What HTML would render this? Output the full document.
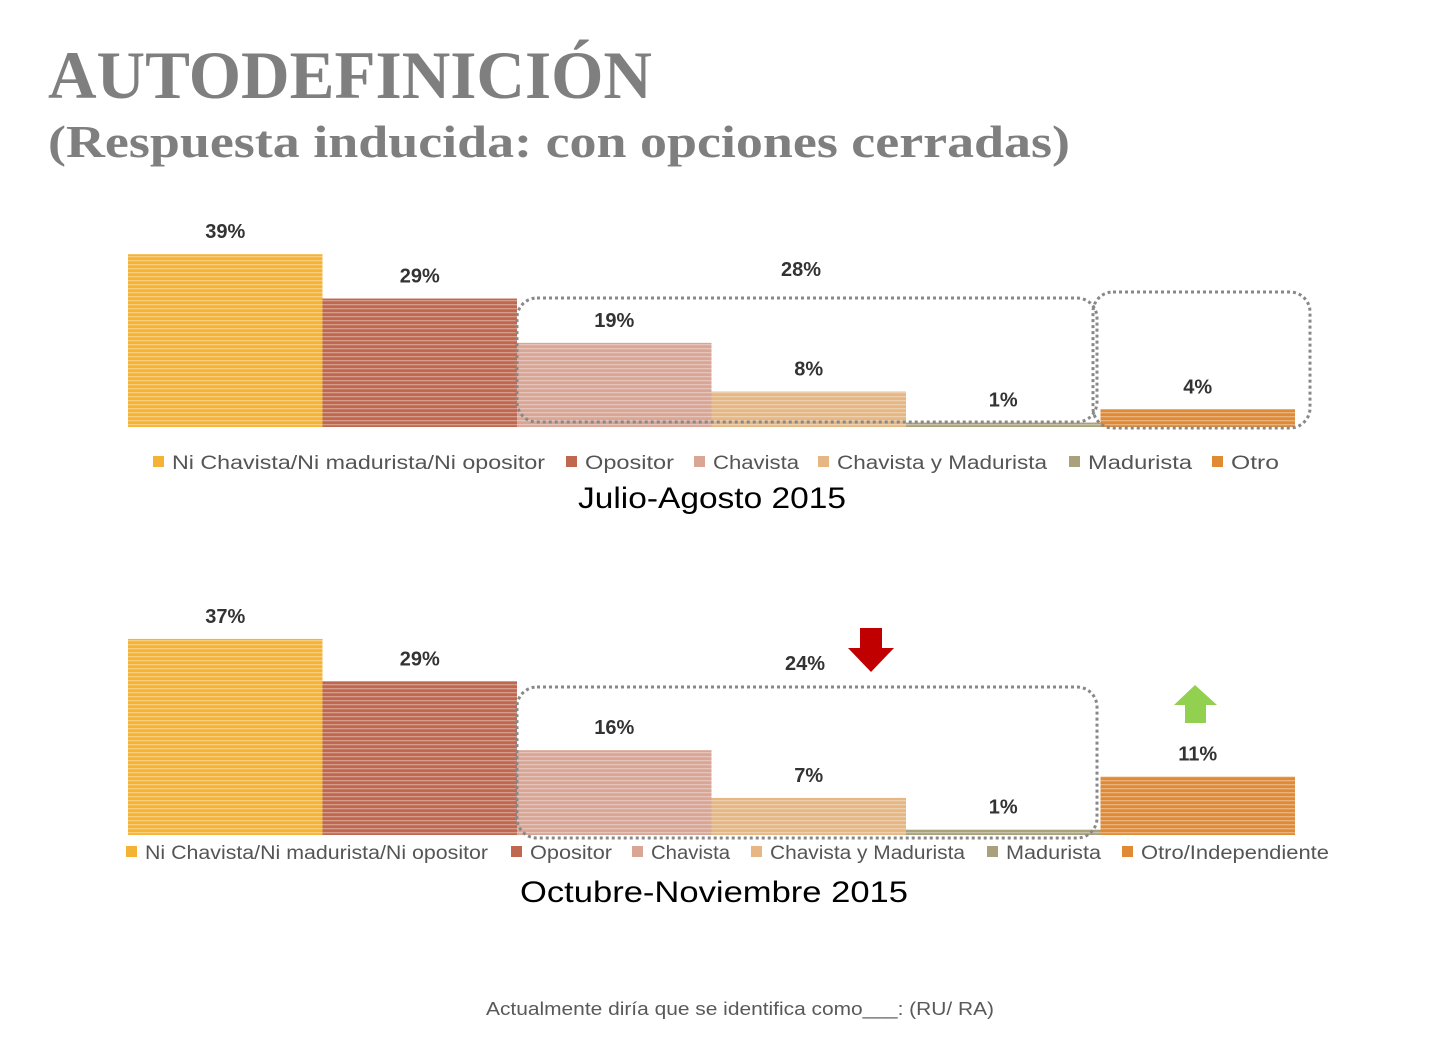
<!DOCTYPE html>
<html><head><meta charset="utf-8"><style>
body{margin:0;background:#fff;width:1442px;height:1040px;overflow:hidden}
svg{display:block}
.lbl{font:bold 20px "Liberation Sans",sans-serif;fill:#333;text-anchor:middle}
.leg{font:19px "Liberation Sans",sans-serif;fill:#555}
</style></head><body>
<svg id="s" width="1442" height="1040" xmlns="http://www.w3.org/2000/svg">
<defs>
<pattern id="st" width="4" height="4" patternUnits="userSpaceOnUse"><rect width="4" height="1.3" fill="#fff" opacity="0.35"/></pattern>
</defs>
<text x="48" y="98" textLength="604" lengthAdjust="spacingAndGlyphs" style="font:bold 68px 'Liberation Serif',serif;fill:#7f7f7f">AUTODEFINICIÓN</text>
<text x="48" y="157" textLength="1022" lengthAdjust="spacingAndGlyphs" style="font:bold 46px 'Liberation Serif',serif;fill:#7f7f7f">(Respuesta inducida: con opciones cerradas)</text>
<g id="c1"></g>
<g id="c2"></g>
<rect x="517" y="298" width="580" height="124" rx="20" fill="none" stroke="#888" stroke-width="3" stroke-dasharray="3,3"/>
<rect x="1093" y="292" width="217" height="136" rx="20" fill="none" stroke="#888" stroke-width="3" stroke-dasharray="3,3"/>
<text class="lbl" x="801" y="276">28%</text>
<rect x="517" y="687" width="580" height="151" rx="20" fill="none" stroke="#888" stroke-width="3" stroke-dasharray="3,3"/>
<text class="lbl" x="805" y="670">24%</text>
<polygon points="860,628 882,628 882,648 894,648 871,672 848,648 860,648" fill="#c00000"/>
<polygon points="1195,685 1217,705 1206,705 1206,723 1185,723 1185,705 1174,705" fill="#92d050"/>
<text x="712" y="508" style="font:30px 'Liberation Sans',sans-serif;fill:#000" text-anchor="middle" textLength="268" lengthAdjust="spacingAndGlyphs">Julio-Agosto 2015</text>
<text x="714" y="902" style="font:30px 'Liberation Sans',sans-serif;fill:#000" text-anchor="middle" textLength="388" lengthAdjust="spacingAndGlyphs">Octubre-Noviembre 2015</text>
<text x="740" y="1015" style="font:18px 'Liberation Sans',sans-serif;fill:#595959" text-anchor="middle" textLength="508" lengthAdjust="spacingAndGlyphs">Actualmente diría que se identifica como___: (RU/ RA)</text>
</svg>
<script>
const colors=["#f5b335","#c0674f","#d9a594","#e6b783","#a9a17c","#e08a35"];
const cats1=["Ni Chavista/Ni madurista/Ni opositor","Opositor","Chavista","Chavista y Madurista","Madurista","Otro"];
const vals1=[39,29,19,8,1,4];
const cats2=["Ni Chavista/Ni madurista/Ni opositor","Opositor","Chavista","Chavista y Madurista","Madurista","Otro/Independiente"];
const vals2=[37,29,16,7,1,11];
const NS="http://www.w3.org/2000/svg";
function mk(t,a,p){const e=document.createElementNS(NS,t);for(const k in a)e.setAttribute(k,a[k]);p.appendChild(e);return e;}
function draw(g,cats,vals,base,scale,legX,legY,legLens){
  const x0=128,w=194.5;
  vals.forEach((v,i)=>{
    const h=v*scale,x=x0+i*w;
    const r=mk('rect',{x:x,y:base-h,width:w,height:h,fill:colors[i]},g);
    
    
    const o=mk('rect',{x:x,y:base-h,width:w,height:h,fill:'url(#st)'},g);
    
    
    const t=mk('text',{x:x+w/2,y:base-h-16,class:'lbl'},g);t.textContent=v+'%';
    
    
  });
  cats.forEach((c,i)=>{
    const s=mk('rect',{x:legX[i],y:legY-6,width:11,height:11,fill:colors[i]},g);
    
    
    const t=mk('text',{x:legX[i]+19,y:legY+7,class:'leg',textLength:legLens[i],lengthAdjust:'spacingAndGlyphs'},g);t.textContent=c;
    
    
  });
}
draw(document.getElementById('c1'),cats1,vals1,427,4.43,[153,566,694,818,1069,1212],462,[373,89,86,210,104,48]);
draw(document.getElementById('c2'),cats2,vals2,835,5.3,[126,511,632,751,987,1122],852,[343,82,79,195,95,188]);
</script>
</body></html>
